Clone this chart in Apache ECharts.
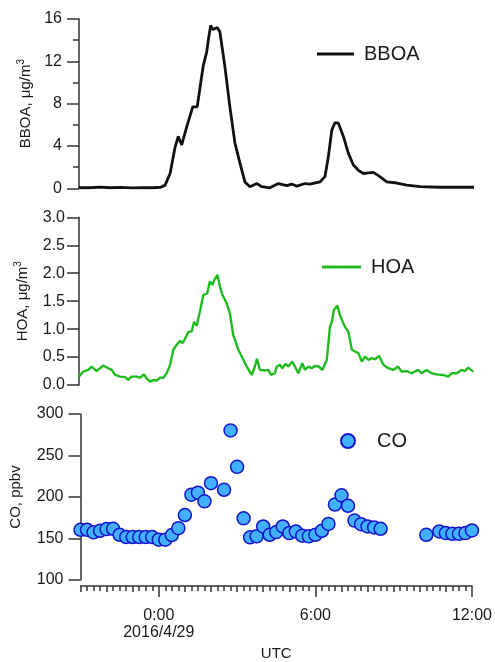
<!DOCTYPE html>
<html><head><meta charset="utf-8">
<script src="https://cdn.jsdelivr.net/npm/echarts@6/dist/echarts.min.js"></script>
<style>html,body{margin:0;padding:0;background:#fff}#c{width:495px;height:662px}</style>
</head><body><div id="c"></div>
<script>
// time in hours relative to 2016/4/29 0:00 UTC
const bboaTime = [-3.00,-2.60,-2.20,-1.80,-1.40,-1.00,-0.60,-0.20,0.10,0.27,0.46,0.65,0.77,0.90,1.09,1.32,1.49,1.60,1.72,1.85,1.91,2.00,2.09,2.17,2.25,2.35,2.54,2.73,2.92,3.11,3.30,3.49,3.75,3.94,4.25,4.57,4.89,5.08,5.27,5.58,5.77,6.15,6.34,6.47,6.60,6.72,6.85,7.04,7.23,7.42,7.61,7.80,7.98,8.18,8.37,8.69,9.07,9.45,9.95,10.71,11.47,12.00];
const bboaValue = [0.05,0.05,0.12,0.05,0.08,0.04,0.06,0.05,0.10,0.3,1.4,3.9,4.9,4.1,5.8,7.7,7.7,9.6,11.6,12.9,14.0,15.4,15.0,15.1,15.2,14.8,11.5,7.7,4.3,2.4,0.6,0.15,0.45,0.15,0.05,0.45,0.25,0.4,0.2,0.45,0.4,0.6,1.1,3.0,5.5,6.2,6.15,4.9,3.3,2.2,1.7,1.4,1.45,1.5,1.2,0.6,0.5,0.3,0.15,0.1,0.1,0.1];

const hoaTime = [-3.00,-2.84,-2.65,-2.52,-2.33,-2.20,-2.08,-1.89,-1.76,-1.63,-1.44,-1.25,-1.13,-1.00,-0.81,-0.68,-0.53,-0.43,-0.30,-0.18,-0.05,0.08,0.20,0.33,0.46,0.58,0.71,0.84,0.94,1.06,1.15,1.28,1.37,1.47,1.59,1.72,1.87,1.97,2.07,2.14,2.26,2.35,2.45,2.52,2.61,2.73,2.86,3.05,3.18,3.37,3.56,3.66,3.76,3.87,4.06,4.19,4.29,4.44,4.51,4.63,4.72,4.85,4.95,5.10,5.20,5.33,5.48,5.58,5.71,5.84,5.96,6.11,6.24,6.41,6.53,6.60,6.68,6.81,6.91,7.10,7.23,7.36,7.48,7.61,7.74,7.86,7.99,8.11,8.24,8.40,8.56,8.75,8.93,9.12,9.25,9.44,9.63,9.88,10.01,10.20,10.39,10.58,10.83,11.02,11.15,11.34,11.53,11.66,11.78,11.97];
const hoaValue = [0.15,0.24,0.27,0.33,0.25,0.30,0.35,0.30,0.27,0.18,0.15,0.14,0.09,0.15,0.15,0.13,0.19,0.12,0.06,0.09,0.08,0.13,0.13,0.21,0.36,0.63,0.72,0.79,0.75,0.86,0.95,0.96,1.13,1.06,1.31,1.61,1.64,1.85,1.79,1.88,1.97,1.76,1.61,1.63,1.46,1.28,0.89,0.63,0.51,0.33,0.18,0.30,0.47,0.27,0.26,0.27,0.18,0.21,0.33,0.36,0.30,0.38,0.33,0.42,0.33,0.21,0.39,0.27,0.33,0.30,0.34,0.33,0.27,0.45,1.04,1.13,1.34,1.42,1.25,1.04,0.95,0.63,0.60,0.57,0.42,0.51,0.45,0.48,0.46,0.52,0.36,0.30,0.27,0.33,0.24,0.25,0.21,0.27,0.21,0.27,0.21,0.19,0.18,0.15,0.21,0.21,0.27,0.25,0.31,0.24];

const coTime = [-3.00,-2.75,-2.50,-2.25,-2.00,-1.75,-1.50,-1.25,-1.00,-0.75,-0.50,-0.25,0.00,0.25,0.50,0.75,1.00,1.25,1.50,1.75,2.00,2.50,2.75,3.00,3.25,3.50,3.75,4.00,4.25,4.50,4.75,5.00,5.25,5.50,5.75,6.00,6.25,6.50,6.75,7.00,7.25,7.50,7.75,8.00,8.25,8.50,10.25,10.75,11.00,11.25,11.50,11.75,12.00];
const coValue = [160.5,160.5,157.4,159.3,161.3,161.7,154.5,151.8,151.8,151.8,151.8,151.8,148.6,148.6,154.2,162.5,178.3,202.8,205.2,194.8,216.6,208.7,280.2,236.3,174.3,151.4,152.6,164.5,154.5,157.7,164.5,156.5,158.5,153.4,152.6,154.5,159.3,167.6,190.9,202.0,189.4,171.6,167.2,164.5,163.3,161.7,154.5,158.5,156.5,155.7,155.7,156.5,159.7];

const xMajorHours = [0, 6, 12];
const xMajorLabels = ['0:00\n2016/4/29', '6:00', '12:00'];
const bboaTicks = {min: 0, max: 16, interval: 4};
const hoaTicks = {min: 0, max: 3, interval: 0.5};
const coTicks = {min: 100, max: 300, interval: 50};

const pair = (t, v) => t.map((x, i) => [x, v[i]]);

const FONT = 'Liberation Sans, Arial, sans-serif';
const AX = '#333';
const TXT = '#1a1a1a';

const grids = [
  {left: 79, right: 21, top: 19, height: 169.3},
  {left: 79, right: 21, top: 217.3, height: 167.7},
  {left: 79, right: 21, top: 414, height: 168.7}
];

function hiddenX(gi) {
  return {type: 'value', gridIndex: gi, min: -3, max: 12, show: false, position: 'bottom', axisLine: {onZero: false}};
}
const richName = () => ({
  m: {fontSize: 15, fontFamily: FONT, color: TXT, lineHeight: 20},
  s: {fontSize: 10, fontFamily: FONT, color: TXT, verticalAlign: 'top', lineHeight: 20}
});
function yAx(gi, t, name, gap, margin, fmt, minor) {
  return {
    type: 'value', gridIndex: gi, min: t.min, max: t.max, interval: t.interval, position: 'left',
    name: name, nameLocation: 'middle', nameGap: gap, nameRotate: 90,
    nameTextStyle: {fontFamily: FONT, fontSize: 15, color: TXT, rich: richName()},
    axisLine: {show: true, onZero: false, lineStyle: {color: AX, width: 1.5}},
    axisTick: {show: true, inside: false, length: 12, lineStyle: {color: AX, width: 1.5}},
    minorTick: minor ? {show: true, splitNumber: 2, length: 6, lineStyle: {color: AX, width: 1.5}} : {show: false},
    axisLabel: {fontFamily: FONT, fontSize: 16, color: TXT, margin: margin, formatter: fmt},
    splitLine: {show: false}, minorSplitLine: {show: false}
  };
}

const option = {
  animation: false,
  backgroundColor: '#fff',
  grid: grids,
  xAxis: [
    hiddenX(0), hiddenX(1),
    {type: 'value', gridIndex: 2, min: -3, max: 12, interval: 0.25, offset: 6, position: 'bottom',
     axisLine: {show: true, onZero: false, lineStyle: {color: AX, width: 1.5}},
     axisTick: {show: true, length: 5, lineStyle: {color: AX, width: 1.5}},
     axisLabel: {show: true, customValues: xMajorHours, margin: 21, fontFamily: FONT, fontSize: 16, color: TXT, lineHeight: 17,
       formatter: (v) => xMajorLabels[xMajorHours.indexOf(v)] || ''},
     splitLine: {show: false},
     name: 'UTC', nameLocation: 'middle', nameGap: 60,
     nameTextStyle: {fontFamily: FONT, fontSize: 15, color: TXT}},
    {type: 'value', gridIndex: 2, min: -3, max: 12, interval: 1, offset: 6, position: 'bottom',
     axisLine: {show: false, onZero: false}, axisLabel: {show: false}, splitLine: {show: false},
     axisTick: {show: true, length: 6, lineStyle: {color: AX, width: 1.5}}},
    {type: 'value', gridIndex: 2, min: -3, max: 12, offset: 6, position: 'bottom',
     axisLine: {show: false, onZero: false}, axisLabel: {show: false}, splitLine: {show: false},
     axisTick: {show: true, customValues: xMajorHours, length: 11, lineStyle: {color: AX, width: 1.5}}}
  ],
  yAxis: [
    yAx(0, bboaTicks, '{m|BBOA, μg/m}{s|3}', 41, 17, (v) => String(v), true),
    yAx(1, hoaTicks, '{m|HOA, μg/m}{s|3}', 46, 14, (v) => v.toFixed(1), false),
    yAx(2, coTicks, '{m|CO, ppbv}', 55, 17, (v) => String(v), false)
  ],
  legend: [
    {data: ['BBOA'], left: 317, top: 44, padding: 0, itemWidth: 37, itemHeight: 3, icon: 'rect',
     textStyle: {fontFamily: FONT, fontSize: 20, color: TXT, padding: [0,0,0,5]}},
    {data: ['HOA'], left: 322, top: 257, padding: 0, itemWidth: 39, itemHeight: 3, icon: 'rect',
     textStyle: {fontFamily: FONT, fontSize: 20, color: TXT, padding: [0,0,0,5]}},
    {data: ['CO'], left: 340, top: 431, padding: 0, itemWidth: 14, itemHeight: 14, icon: 'circle',
     textStyle: {fontFamily: FONT, fontSize: 20, color: TXT, padding: [0,0,0,17]}}
  ],
  series: [
    {name: 'BBOA', type: 'line', xAxisIndex: 0, yAxisIndex: 0, symbol: 'none',
     data: pair(bboaTime, bboaValue), lineStyle: {color: '#111', width: 2.8}, itemStyle: {color: '#111'}},
    {name: 'HOA', type: 'line', xAxisIndex: 1, yAxisIndex: 1, symbol: 'none',
     data: pair(hoaTime, hoaValue), lineStyle: {color: '#20bb20', width: 2.4}, itemStyle: {color: '#20bb20'}},
    {name: 'CO', type: 'scatter', xAxisIndex: 2, yAxisIndex: 2, symbol: 'circle', symbolSize: 13,
     data: pair(coTime, coValue), itemStyle: {color: '#42b0ff', borderColor: '#1414cc', borderWidth: 1.5, opacity: 1}}
  ]
};
const chart = echarts.init(document.getElementById('c'), null, {renderer: 'canvas'});
chart.setOption(option);
</script></body></html>
